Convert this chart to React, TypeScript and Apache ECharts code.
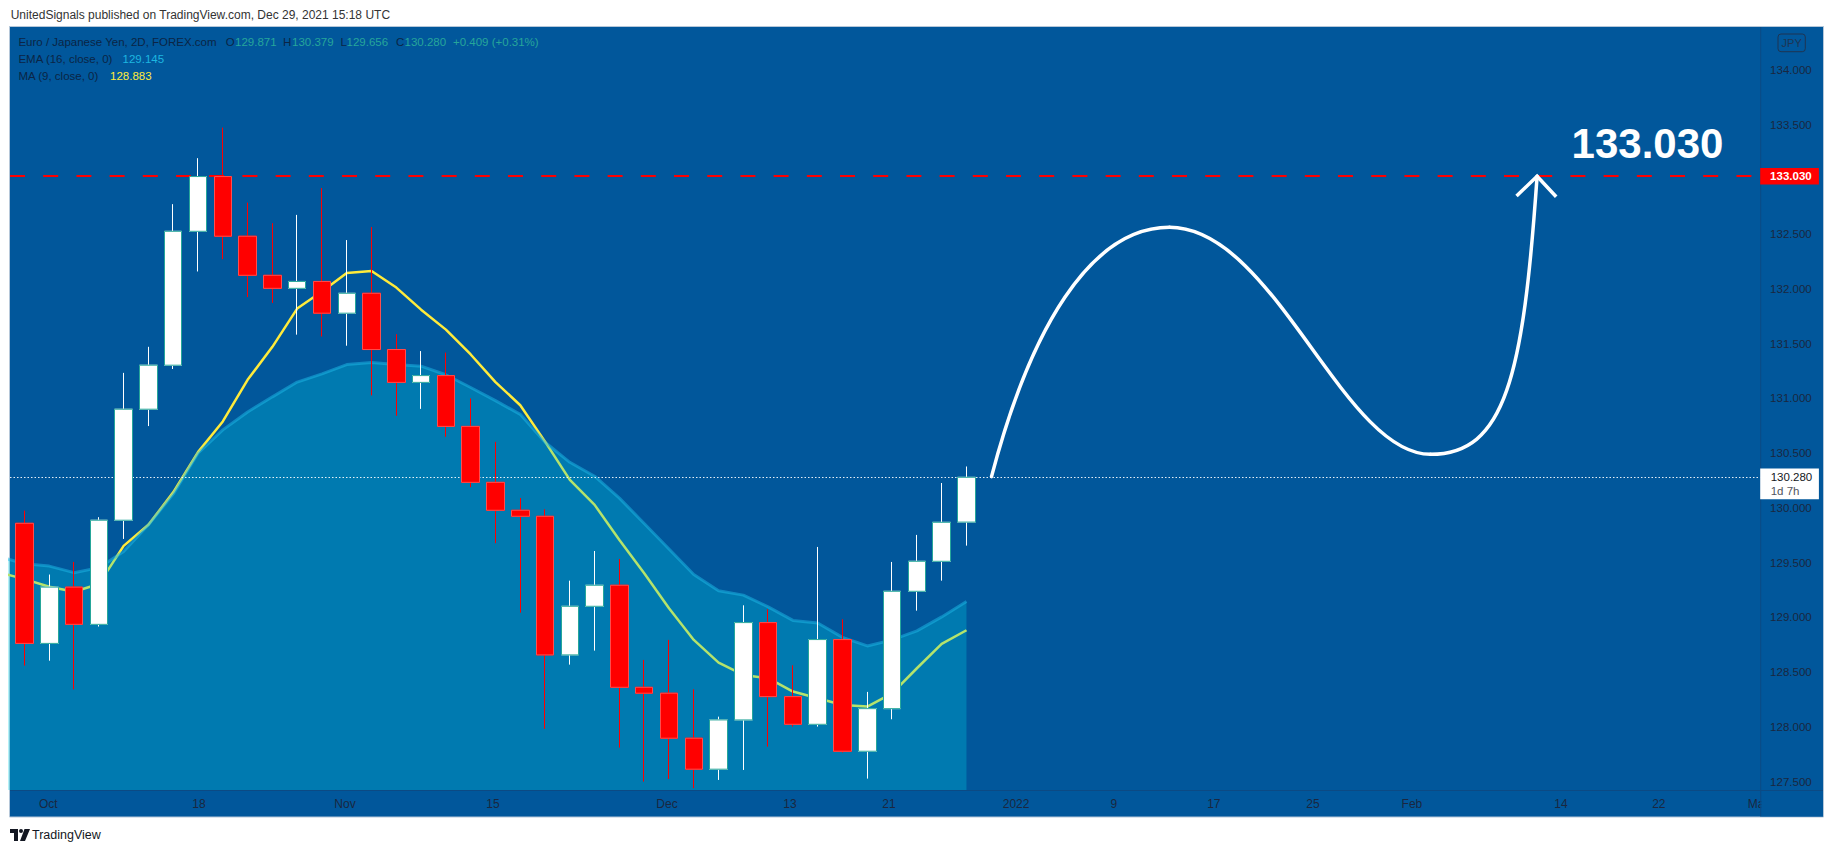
import React, { useEffect, useRef } from "react";
import * as echarts from "echarts";

// ---- Data (EUR/JPY, 2D bars) ----
const opens = [129.860, 128.763, 129.277, 128.937, 129.888, 130.902, 131.304, 132.527, 133.027, 132.482, 132.125, 132.006, 132.069, 131.779, 131.961, 131.447, 131.147, 131.209, 130.745, 130.234, 129.979, 129.924, 128.658, 129.102, 129.294, 128.362, 128.308, 127.897, 127.614, 128.064, 128.953, 128.277, 128.024, 128.798, 127.778, 128.167, 129.239, 129.513, 129.871];
const closes = [128.763, 129.277, 128.937, 129.888, 130.902, 131.304, 132.527, 133.027, 132.482, 132.125, 132.006, 132.069, 131.779, 131.961, 131.447, 131.147, 131.209, 130.745, 130.234, 129.979, 129.924, 128.658, 129.102, 129.294, 128.362, 128.308, 127.897, 127.614, 128.064, 128.953, 128.277, 128.024, 128.798, 127.778, 128.167, 129.239, 129.513, 129.869, 130.280];
const highs = [129.976, 129.392, 129.507, 129.916, 131.234, 131.472, 132.775, 133.195, 133.474, 132.789, 132.601, 132.677, 132.922, 132.447, 132.566, 131.587, 131.433, 131.419, 131.000, 130.604, 130.091, 129.988, 129.336, 129.607, 129.534, 128.612, 128.795, 128.344, 128.094, 129.111, 129.075, 128.563, 129.644, 128.983, 128.320, 129.507, 129.754, 130.228, 130.379];
const lows = [128.560, 128.605, 128.343, 128.917, 129.717, 130.748, 131.269, 132.160, 132.272, 131.926, 131.873, 131.583, 131.566, 131.482, 131.028, 130.842, 130.905, 130.650, 130.190, 129.678, 129.044, 127.982, 128.569, 128.697, 127.811, 127.501, 127.525, 127.440, 127.516, 127.607, 127.820, 128.003, 128.003, 127.766, 127.528, 128.070, 129.062, 129.336, 129.656];

// EMA(16) and MA(9), starting one bar before the first visible candle (index -1)
const emaValues = [129.555, 129.490, 129.469, 129.409, 129.455, 129.602, 129.846, 130.126, 130.500, 130.713, 130.877, 131.015, 131.150, 131.225, 131.310, 131.328, 131.310, 131.295, 131.217, 131.100, 130.980, 130.855, 130.600, 130.417, 130.290, 130.090, 129.858, 129.625, 129.392, 129.244, 129.204, 129.097, 128.973, 128.950, 128.818, 128.740, 128.795, 128.877, 129.005, 129.145];
const maValues = [129.410, 129.350, 129.280, 129.235, 129.305, 129.654, 129.846, 130.143, 130.510, 130.790, 131.170, 131.472, 131.821, 131.978, 132.146, 132.164, 132.013, 131.811, 131.629, 131.402, 131.150, 130.938, 130.606, 130.256, 130.028, 129.708, 129.403, 129.084, 128.795, 128.588, 128.475, 128.445, 128.323, 128.262, 128.201, 128.186, 128.307, 128.536, 128.758, 128.883];

// Hand-drawn projection curve: anchors and bezier handles (bar index, price)
const curveX = [39.01, 40.56, 42.98, 46.19, 50.42, 53.17, 56.72, 59.74, 60.46, 61.02];
const curveY = [130.286, 131.625, 132.563, 132.563, 132.563, 130.490, 130.490, 130.490, 131.199, 133.030];
const arrowX = [60.19, 61.02, 61.79];
const arrowY = [132.849, 133.030, 132.843];

const targetLevel = 133.03;
const changeText = "+0.409 (+0.31%)";

const timeTickPositions = [0.96, 7.04, 12.93, 18.9, 25.92, 30.88, 34.87, 40.0, 43.95, 47.98, 51.98, 55.97, 61.98, 65.93, 69.93];
const timeTickLabels = ["Oct", "18", "Nov", "15", "Dec", "13", "21", "2022", "9", "17", "25", "Feb", "14", "22", "Mar"];
const priceTicks = [127.5, 128.0, 128.5, 129.0, 129.5, 130.0, 130.5, 131.0, 131.5, 132.0, 132.5, 133.0, 133.5, 134.0];

// ---- Layout / style ----
const FONT = "'Liberation Sans', Arial, sans-serif";
const BG = "#01579B";
const AXIS_TEXT = "#1a2740";
const X_MIN = -0.585;
const X_MAX = 70.04;
const Y_MIN = 127.424;
const Y_MAX = 134.393;
const GRID_L = 10;
const GRID_T = 27;
const GRID_W = 1750.7;
const GRID_H = 763;

const LOGO_D =
  "M0 0H8V12H4V4H0Z M9 2a2 2 0 1 0 4 0a2 2 0 1 0 -4 0Z M14.5 0H20L15 12H10Z";
let logoRegistered = false;

function txt(x: number, y: number, text: string, fill: string, font: string, align = "left", vAlign = "middle", z = 100) {
  return {
    type: "text",
    x,
    y,
    z,
    silent: true,
    style: { text, fill, font, align, textAlign: align, verticalAlign: vAlign, textVerticalAlign: vAlign },
  };
}

export default function App() {
  const ref = useRef<HTMLDivElement>(null);

  useEffect(() => {
    const el = ref.current;
    if (!el) return;
    if (!logoRegistered) {
      echarts.graphic.registerShape("tvlogo", echarts.graphic.extendPath(LOGO_D, {}));
      logoRegistered = true;
    }
    const chart = echarts.init(el, null, { renderer: "svg" });
    const last = closes.length - 1;
    const lastClose = closes[last];

    const candleData = opens.map((o, i) => [i, o, closes[i], lows[i], highs[i]]);
    const bodyData = opens.map((o, i) => [i, o, closes[i], Math.min(o, closes[i]), Math.max(o, closes[i])]);
    const emaPoints = emaValues.map((v, k) => [k - 1, v]);
    const maPoints = maValues.map((v, k) => [k - 1, v]);
    const arrowPoints = arrowX.map((x, k) => [x, arrowY[k]]);
    const curveSegments: number[][] = [];
    for (let k = 0; k + 3 < curveX.length; k += 3) {
      curveSegments.push([
        curveX[k], curveY[k], curveX[k + 1], curveY[k + 1],
        curveX[k + 2], curveY[k + 2], curveX[k + 3], curveY[k + 3],
      ]);
    }

    const labelFor = (v: number) => {
      const k = timeTickPositions.findIndex((p) => Math.abs(p - v) < 1e-6);
      return k >= 0 ? timeTickLabels[k] : "";
    };

    chart.setOption({
      animation: false,
      backgroundColor: "#ffffff",
      grid: { left: GRID_L, top: GRID_T, width: GRID_W, height: GRID_H, containLabel: false, outerBoundsMode: "none" },
      xAxis: {
        type: "value",
        min: X_MIN,
        max: X_MAX,
        axisLine: { show: false },
        axisTick: { show: false },
        splitLine: { show: false },
        axisLabel: {
          customValues: timeTickPositions,
          formatter: (v: number) => labelFor(v),
          color: AXIS_TEXT,
          fontSize: 12,
          fontFamily: FONT,
          margin: 8,
        },
      },
      yAxis: {
        type: "value",
        position: "right",
        min: Y_MIN,
        max: Y_MAX,
        axisLine: { show: false },
        axisTick: { show: false },
        splitLine: { show: false },
        axisLabel: {
          customValues: priceTicks,
          formatter: (v: number) => v.toFixed(3),
          color: AXIS_TEXT,
          fontSize: 11.5,
          fontFamily: FONT,
          align: "right",
          margin: 51,
        },
      },
      series: [
        {
          name: "MA (9, close, 0)",
          type: "line",
          data: maPoints,
          showSymbol: false,
          silent: true,
          z: 2,
          lineStyle: { color: "#ffeb3b", width: 2.5 },
        },
        {
          name: "EMA (16, close, 0)",
          type: "line",
          data: emaPoints,
          showSymbol: false,
          silent: true,
          z: 3,
          lineStyle: { color: "rgba(30,185,232,0.5)", width: 3 },
          areaStyle: { color: "rgba(0,208,228,0.42)", origin: "start" },
        },
        {
          name: "EURJPY",
          type: "candlestick",
          data: candleData,
          encode: { x: 0, y: [1, 2, 3, 4] },
          barWidth: 18,
          silent: true,
          z: 4,
          itemStyle: { color: "#ffffff", color0: "#ff0000", borderColor: "#ffffff", borderColor0: "#ff0000", borderWidth: 1 },
        },
        {
          name: "bodies",
          type: "candlestick",
          data: bodyData,
          encode: { x: 0, y: [1, 2, 3, 4] },
          barWidth: 18,
          silent: true,
          z: 5,
          itemStyle: { color: "#ffffff", color0: "#ff0000", borderColor: "#26a69a", borderColor0: "#ff4d4d", borderWidth: 1 },
        },
        {
          name: "projection",
          type: "custom",
          data: curveSegments,
          encode: { x: [0, 2, 4, 6], y: [1, 3, 5, 7] },
          silent: true,
          z: 6,
          renderItem: (params: any, api: any) => {
            const p0 = api.coord([api.value(0), api.value(1)]);
            const c1 = api.coord([api.value(2), api.value(3)]);
            const c2 = api.coord([api.value(4), api.value(5)]);
            const p3 = api.coord([api.value(6), api.value(7)]);
            return {
              type: "bezierCurve",
              shape: { x1: p0[0], y1: p0[1], cpx1: c1[0], cpy1: c1[1], cpx2: c2[0], cpy2: c2[1], x2: p3[0], y2: p3[1] },
              style: { stroke: "#ffffff", lineWidth: 3.5, fill: "none", lineCap: "round" },
            };
          },
        },
        {
          name: "arrow",
          type: "line",
          data: arrowPoints,
          showSymbol: false,
          silent: true,
          z: 6,
          lineStyle: { color: "#ffffff", width: 3.5, cap: "butt", join: "miter" },
          markLine: {
            silent: true,
            symbol: "none",
            animation: false,
            label: { show: false },
            data: [
              { yAxis: targetLevel, lineStyle: { color: "#ff0000", width: 2, type: [15, 18.2] } },
              { yAxis: lastClose, lineStyle: { color: "rgba(255,255,255,0.9)", width: 1, type: [1.5, 2] } },
            ],
          },
        },
      ],
    });

    const yT = chart.convertToPixel({ yAxisIndex: 0 }, targetLevel) as number;
    const yL = chart.convertToPixel({ yAxisIndex: 0 }, lastClose) as number;
    const rightX = GRID_L + GRID_W;
    const f115 = `11.5px ${FONT}`;

    const elements: any[] = [
      {
        type: "rect",
        z: -10,
        silent: true,
        shape: { x: 9.5, y: 26.5, width: 1814, height: 790.5 },
        style: { fill: BG, stroke: "#b5c7d9", lineWidth: 1 },
      },
      {
        type: "rect",
        z: 50,
        silent: true,
        shape: { x: rightX + 0.5, y: 791, width: 1823 - rightX - 0.5, height: 25.5 },
        style: { fill: BG },
      },
      {
        type: "line",
        z: 51,
        silent: true,
        shape: { x1: rightX, y1: 27, x2: rightX, y2: 816.5 },
        style: { stroke: "#0c4a84", lineWidth: 1 },
      },
      {
        type: "line",
        z: 51,
        silent: true,
        shape: { x1: 10, y1: 790.5, x2: 1823, y2: 790.5 },
        style: { stroke: "#0c4a84", lineWidth: 1 },
      },
      txt(10.7, 15, "UnitedSignals published on TradingView.com, Dec 29, 2021 15:18 UTC", "#333333", `12px ${FONT}`),
      txt(18.4, 42.3, "Euro / Japanese Yen, 2D, FOREX.com", "#0b2545", f115),
      txt(225.8, 42.3, "O", "#0b2545", f115),
      txt(235, 42.3, opens[last].toFixed(3), "#26a69a", f115),
      txt(283, 42.3, "H", "#0b2545", f115),
      txt(292, 42.3, highs[last].toFixed(3), "#26a69a", f115),
      txt(340.6, 42.3, "L", "#0b2545", f115),
      txt(346.5, 42.3, lows[last].toFixed(3), "#26a69a", f115),
      txt(396, 42.3, "C", "#0b2545", f115),
      txt(404.5, 42.3, lastClose.toFixed(3), "#26a69a", f115),
      txt(453, 42.3, changeText, "#26a69a", f115),
      txt(18.4, 59, "EMA (16, close, 0)", "#0b2545", f115),
      txt(122.5, 59, emaValues[emaValues.length - 1].toFixed(3), "#1db6e0", f115),
      txt(18.4, 75.7, "MA (9, close, 0)", "#0b2545", f115),
      txt(110, 75.7, maValues[maValues.length - 1].toFixed(3), "#ffeb3b", f115),
      {
        type: "rect",
        z: 100,
        silent: true,
        shape: { x: 1778, y: 34, width: 27.3, height: 17.7, r: 3 },
        style: { fill: "none", stroke: "#1e3553", lineWidth: 1 },
      },
      txt(1791.7, 43, "JPY", "#1e3553", `11px ${FONT}`, "center"),
      txt(1647.5, yT - 32.5, targetLevel.toFixed(3), "#ffffff", `bold 42px ${FONT}`, "center"),
      {
        type: "rect",
        z: 100,
        silent: true,
        shape: { x: rightX - 0.5, y: yT - 8.3, width: 58.7, height: 16.6 },
        style: { fill: "#ff0000" },
      },
      txt(1811.7, yT, targetLevel.toFixed(3), "#ffffff", `bold 11.5px ${FONT}`, "right"),
      {
        type: "rect",
        z: 100,
        silent: true,
        shape: { x: rightX - 0.5, y: yL - 8.7, width: 58.7, height: 30.7 },
        style: { fill: "#ffffff" },
      },
      txt(1770.7, yL, lastClose.toFixed(3), "#131722", f115),
      txt(1770.7, yL + 14, "1d 7h", "#50535e", f115),
      {
        type: "tvlogo",
        x: 10,
        y: 829,
        scaleX: 1,
        scaleY: 1,
        z: 100,
        silent: true,
        style: { fill: "#131722" },
      },
      txt(32, 835, "TradingView", "#131722", `12.5px ${FONT}`),
    ];

    chart.setOption({ graphic: { elements } });

    return () => {
      chart.dispose();
    };
  }, []);

  return <div ref={ref} style={{ position: "fixed", left: 0, top: 0, width: 1834, height: 853 }} />;
}
